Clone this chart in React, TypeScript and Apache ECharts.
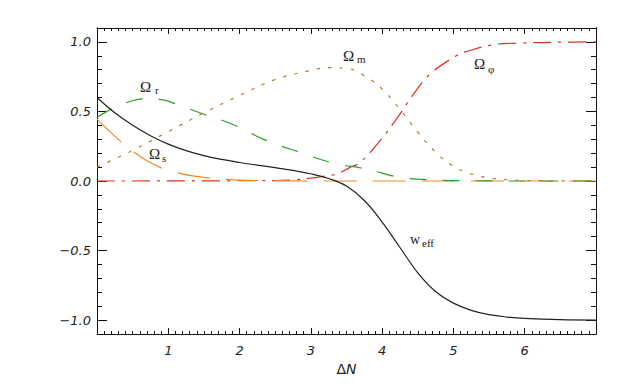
import React, { useEffect, useRef } from "react";
import * as echarts from "echarts";

// ---- data ----
const yMajorTicks = [-1, -0.5, 0, 0.5, 1];

const wEffX = [0, 0.25, 0.5, 0.75, 1.0, 1.25, 1.5, 1.75, 2.0, 2.25, 2.5, 2.75, 3.0, 3.25, 3.5, 3.75, 4.0, 4.25, 4.5, 4.75, 5.0, 5.25, 5.5, 5.75, 6.0, 6.5, 7.0];
const wEffY = [0.6, 0.49, 0.4, 0.325, 0.265, 0.218, 0.182, 0.155, 0.133, 0.114, 0.096, 0.076, 0.052, 0.018, -0.036, -0.14, -0.295, -0.478, -0.66, -0.795, -0.878, -0.93, -0.961, -0.978, -0.988, -0.997, -1.0];

const omegaRX = [0, 0.21, 0.45, 0.67, 0.9, 1.14, 1.5, 1.89, 2.38, 2.85, 3.31, 3.78, 4.25, 4.76, 5.3, 6.0, 7.0];
const omegaRY = [0.456, 0.52, 0.57, 0.59, 0.585, 0.547, 0.48, 0.41, 0.29, 0.205, 0.129, 0.086, 0.026, 0.007, 0.002, 0, 0];

const omegaSX = [0, 0.15, 0.32, 0.51, 0.7, 0.91, 1.16, 1.4, 1.63, 2.0, 2.5, 3.0, 7.0];
const omegaSY = [0.445, 0.37, 0.29, 0.21, 0.145, 0.093, 0.055, 0.033, 0.019, 0.007, 0.002, 0, 0];

const omegaMX = [0, 0.5, 1.0, 1.5, 2.0, 2.5, 3.0, 3.25, 3.5, 3.75, 4.0, 4.25, 4.5, 4.75, 5.0, 5.25, 5.5, 5.75, 6.0, 6.5, 7.0];
const omegaMY = [0.1, 0.22, 0.355, 0.49, 0.615, 0.73, 0.795, 0.815, 0.81, 0.757, 0.662, 0.515, 0.352, 0.207, 0.106, 0.05, 0.022, 0.009, 0.004, 0.001, 0];

const omegaPhiX = [0, 2.5, 2.8, 3.0, 3.2, 3.36, 3.55, 3.69, 3.97, 4.2, 4.44, 4.67, 5.04, 5.21, 5.54, 5.96, 6.5, 7.0];
const omegaPhiY = [0, 0.003, 0.01, 0.02, 0.035, 0.05, 0.098, 0.133, 0.29, 0.445, 0.624, 0.768, 0.9, 0.935, 0.978, 0.992, 0.998, 1.0];

const pairs = (xs: number[], ys: number[]) => xs.map((x, i) => [x, ys[i]]);

const fmtY = (v: number) => (v < 0 ? "\u2212" : "") + Math.abs(v).toFixed(1);

const labelFont = {
  fontFamily: "DejaVu Sans",
  fontStyle: "italic" as const,
  fontSize: 13,
  color: "#222",
};

const axisLine = { show: true, onZero: false, lineStyle: { color: "#111", width: 1 } };

function lineSeries(data: number[][], color: string, type: any, z: number) {
  return {
    type: "line",
    xAxisIndex: 0,
    yAxisIndex: 0,
    data,
    symbol: "none",
    showSymbol: false,
    smooth: 0.4,
    silent: true,
    z,
    lineStyle: { color, width: 1.2, type },
  };
}

function txt(text: string, x: number, y: number, size: number) {
  return {
    type: "text",
    x,
    y,
    silent: true,
    style: {
      text,
      fill: "#222",
      font: `${size}px "Liberation Serif"`,
      align: "left",
      verticalAlign: "middle",
    },
  };
}

export default function App() {
  const ref = useRef<HTMLDivElement>(null);
  useEffect(() => {
    if (!ref.current) return;
    const chart = echarts.init(ref.current, undefined, { renderer: "svg" });
    const xBase = {
      type: "value",
      min: 0,
      max: 7,
      interval: 1,
      axisLine,
      axisTick: { show: true, inside: true, length: 6, lineStyle: { color: "#111" } },
      minorTick: { show: true, splitNumber: 10, length: 3, lineStyle: { color: "#111" } },
      splitLine: { show: false },
      minorSplitLine: { show: false },
    };
    const yMinor = {
      type: "value",
      min: -1.1,
      max: 1.1,
      interval: 0.1,
      axisLine,
      axisTick: { show: true, inside: true, length: 5, lineStyle: { color: "#111" } },
      axisLabel: { show: false },
      splitLine: { show: false },
    };
    const yMajor = {
      type: "value",
      min: -1.1,
      max: 1.1,
      axisLine,
      axisTick: { show: true, inside: true, length: 10, customValues: yMajorTicks, lineStyle: { color: "#111" } },
      splitLine: { show: false },
    };
    chart.setOption({
      animation: false,
      backgroundColor: "#fff",
      grid: { left: 97, right: 27, top: 28, bottom: 54 },
      xAxis: [
        {
          ...xBase,
          position: "bottom",
          axisLabel: {
            ...labelFont,
            margin: 10,
            formatter: (v: number) => (v === 0 || v === 7 ? "" : String(v)),
          },
          name: "{d|\u0394}{n|N}",
          nameLocation: "middle",
          nameGap: 27,
          nameTextStyle: {
            rich: {
              d: { fontFamily: "DejaVu Sans", fontSize: 14, color: "#222" },
              n: { fontFamily: "DejaVu Sans", fontStyle: "italic", fontSize: 14, color: "#222" },
            },
          },
        },
        { ...xBase, position: "top", axisLabel: { show: false } },
      ],
      yAxis: [
        { ...yMinor, position: "left" },
        { ...yMinor, position: "right" },
        {
          ...yMajor,
          position: "left",
          axisLabel: { ...labelFont, margin: 6, customValues: yMajorTicks, formatter: fmtY },
        },
        { ...yMajor, position: "right", axisLabel: { show: false } },
      ],
      series: [
        lineSeries(pairs(omegaPhiX, omegaPhiY), "#dd3322", [18, 7, 3, 7], 2),
        lineSeries(pairs(omegaSX, omegaSY), "#ef8a2a", [33, 16], 3),
        lineSeries(pairs(omegaRX, omegaRY), "#2ca02c", [17, 16], 4),
        lineSeries(pairs(omegaMX, omegaMY), "#b07d3c", [3.5, 8], 5),
        lineSeries(pairs(wEffX, wEffY), "#222222", "solid", 6),
      ],
      graphic: [
        txt("\u03a9", 140, 87, 15),
        txt("r", 155, 90, 11),
        txt("\u03a9", 343, 55.5, 15),
        txt("m", 357, 59, 11),
        txt("\u03a9", 474, 64, 15),
        txt("\u03c6", 488, 69, 11),
        txt("\u03a9", 149, 153.5, 15),
        txt("s", 162, 157.5, 11),
        txt("w", 410, 239, 14),
        txt("eff", 422, 243, 11),
      ],
    });
    return () => chart.dispose();
  }, []);
  return (
    <div
      ref={ref}
      style={{ position: "fixed", left: 0, top: 0, width: 623, height: 388, background: "#fff" }}
    />
  );
}
